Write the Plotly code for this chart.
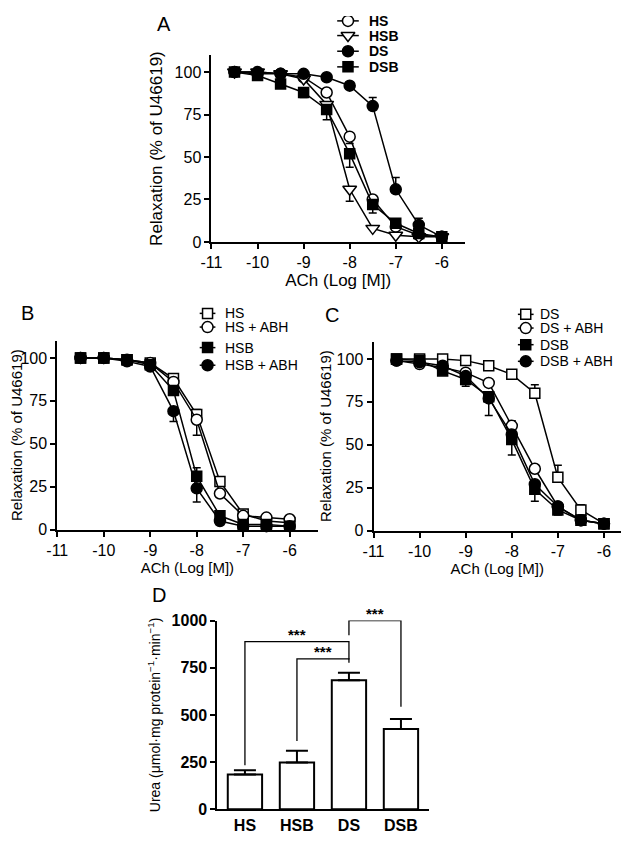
import plotly.graph_objects as go

# ---------------- data ----------------
log_ach = [-10.5, -10, -9.5, -9, -8.5, -8, -7.5, -7, -6.5, -6]
x_ticks = [-11, -10, -9, -8, -7, -6]
x_tick_labels = ["-11", "-10", "-9", "-8", "-7", "-6"]
y_ticks = [0, 25, 50, 75, 100]

# Panel A
a_hs = [100, 99, 99, 97, 88, 62, 25, 9, 4, 3]
a_hsb = [100, 100, 99, 96, 81, 31, 8, 4, 3, 3]
a_ds = [100, 100, 99, 99, 97, 92, 80, 31, 10, 3]
a_dsb = [100, 98, 93, 88, 78, 52, 22, 11, 5, 3]
a_hs_up = [0, 0, 0, 0, 0, 0, 0, 0, 0, 0]
a_hs_dn = [0, 0, 0, 0, 0, 4, 8, 0, 0, 0]
a_hsb_up = [0, 0, 0, 0, 0, 0, 0, 0, 0, 0]
a_hsb_dn = [0, 0, 0, 0, 0, 7, 0, 0, 0, 0]
a_ds_up = [0, 0, 0, 0, 0, 0, 5, 7, 4, 0]
a_ds_dn = [0, 0, 0, 0, 0, 0, 0, 0, 0, 0]
a_dsb_up = [0, 0, 0, 0, 0, 0, 0, 0, 0, 0]
a_dsb_dn = [0, 0, 0, 3, 6, 8, 0, 0, 0, 0]

# Panel B
b_hs = [100, 100, 99, 97, 88, 67, 28, 9, 5, 4]
b_hs_abh = [100, 100, 99, 97, 86, 64, 21, 8, 7, 6]
b_hsb = [100, 100, 99, 96, 81, 31, 8, 3, 3, 2]
b_hsb_abh = [100, 100, 98, 95, 69, 24, 5, 2, 2, 2]
b_hs_up = [0, 0, 0, 0, 2, 3, 2, 0, 0, 0]
b_hs_dn = [0, 0, 0, 0, 0, 0, 0, 0, 0, 0]
b_hs_abh_up = [0, 0, 0, 0, 0, 0, 0, 0, 0, 0]
b_hs_abh_dn = [0, 0, 0, 0, 0, 9, 0, 0, 0, 0]
b_hsb_up = [0, 0, 0, 0, 0, 5, 0, 0, 0, 0]
b_hsb_dn = [0, 0, 0, 0, 0, 0, 0, 0, 0, 0]
b_hsb_abh_up = [0, 0, 0, 0, 0, 0, 0, 0, 0, 0]
b_hsb_abh_dn = [0, 0, 0, 0, 6, 8, 0, 0, 0, 0]

# Panel C
c_ds = [100, 100, 100, 99, 96, 91, 80, 31, 12, 4]
c_ds_abh = [99, 97, 95, 92, 86, 61, 36, 14, 6, 4]
c_dsb = [100, 99, 93, 88, 78, 53, 24, 12, 6, 4]
c_dsb_abh = [99, 98, 96, 90, 77, 56, 27, 14, 6, 4]
c_ds_up = [0, 0, 0, 0, 0, 0, 5, 7, 3, 0]
c_ds_dn = [0, 0, 0, 0, 0, 0, 0, 0, 0, 0]
c_ds_abh_up = [0, 0, 0, 0, 0, 3, 0, 0, 0, 0]
c_ds_abh_dn = [0, 0, 0, 0, 0, 0, 0, 0, 0, 0]
c_dsb_up = [0, 0, 0, 0, 0, 0, 0, 0, 0, 0]
c_dsb_dn = [0, 0, 0, 4, 11, 9, 7, 3, 0, 0]
c_dsb_abh_up = [0, 0, 0, 0, 0, 0, 0, 0, 0, 0]
c_dsb_abh_dn = [0, 0, 0, 0, 0, 0, 0, 0, 0, 0]

# Panel D
groups = ["HS", "HSB", "DS", "DSB"]
urea = [185, 248, 684, 426]
urea_sem = [22, 62, 40, 52]
urea_ticks = [0, 250, 500, 750, 1000]
# significance brackets: (left group, right group, bar level, left drop-to, right drop-to)
brackets = [(0, 2, 888, 233, 793), (1, 2, 797, 362, 776), (2, 3, 1000, 922, 543)]

# ---------------- layout geometry ----------------
FONT = "Liberation Sans, Arial, sans-serif"
PAGE_W, PAGE_H = 629, 842
OFF = 8                      # default body margin of the page
W, H = PAGE_W - 2 * OFF, PAGE_H - 2 * OFF


def dom_x(a, b):
    return [max(0, (a - OFF) / W), min(1, (b - OFF) / W)]


def dom_y(top, bottom):
    return [max(0, 1 - (bottom - OFF) / H), min(1, 1 - (top - OFF) / H)]


fig = go.Figure()

legend_entries = []  # (panel, name, symbol, filled, size)


def add_series(y, up, dn, name, symbol, filled, xa, ya, panel, size=10):
    fig.add_trace(go.Scatter(
        x=log_ach, y=y, name=name, mode="lines+markers",
        xaxis=xa, yaxis=ya, showlegend=False,
        line=dict(color="black", width=1.5),
        marker=dict(symbol=symbol, size=size,
                    color="black" if filled else "white",
                    line=dict(color="black", width=1.5)),
        error_y=dict(type="data", symmetric=False, array=up, arrayminus=dn,
                     color="black", thickness=1.5, width=4),
        cliponaxis=False,
    ))
    legend_entries.append((panel, name, symbol, filled, size))


# Panel A
add_series(a_hs, a_hs_up, a_hs_dn, "HS", "circle", False, "x", "y", "A", size=11)
add_series(a_hsb, a_hsb_up, a_hsb_dn, "HSB", "triangle-down", False, "x", "y", "A", size=12)
add_series(a_ds, a_ds_up, a_ds_dn, "DS", "circle", True, "x", "y", "A", size=11)
add_series(a_dsb, a_dsb_up, a_dsb_dn, "DSB", "square", True, "x", "y", "A", size=10)

# Panel B
add_series(b_hs, b_hs_up, b_hs_dn, "HS", "square", False, "x2", "y2", "B", size=10)
add_series(b_hs_abh, b_hs_abh_up, b_hs_abh_dn, "HS + ABH", "circle", False, "x2", "y2", "B", size=11)
add_series(b_hsb, b_hsb_up, b_hsb_dn, "HSB", "square", True, "x2", "y2", "B", size=10)
add_series(b_hsb_abh, b_hsb_abh_up, b_hsb_abh_dn, "HSB + ABH", "circle", True, "x2", "y2", "B", size=11)

# Panel C
add_series(c_ds, c_ds_up, c_ds_dn, "DS", "square", False, "x3", "y3", "C", size=10)
add_series(c_ds_abh, c_ds_abh_up, c_ds_abh_dn, "DS + ABH", "circle", False, "x3", "y3", "C", size=11)
add_series(c_dsb, c_dsb_up, c_dsb_dn, "DSB", "square", True, "x3", "y3", "C", size=10)
add_series(c_dsb_abh, c_dsb_abh_up, c_dsb_abh_dn, "DSB + ABH", "circle", True, "x3", "y3", "C", size=11)

# Panel D bars
fig.add_trace(go.Bar(
    x=list(range(len(groups))), y=urea, xaxis="x4", yaxis="y4", width=0.66,
    marker=dict(color="white", line=dict(color="black", width=2)),
    error_y=dict(type="data", symmetric=False, array=urea_sem,
                 arrayminus=[0] * len(urea), color="black", thickness=2, width=11),
    showlegend=False,
))
for (i, j, lvl, dl, dr) in brackets:
    fig.add_trace(go.Scatter(
        x=[i, i, j, j], y=[dl, lvl, lvl, dr], mode="lines",
        xaxis="x4", yaxis="y4", line=dict(color="black", width=1.3),
        showlegend=False, cliponaxis=False, hoverinfo="skip",
    ))
    fig.add_annotation(x=(i + j) / 2, y=lvl, xref="x4", yref="y4", text="<b>***</b>",
                       showarrow=False, yanchor="bottom", yshift=-3,
                       font=dict(family=FONT, size=15, color="black"))

# ---- custom legends (transparent overlay pixel axis x5/y5, page pixel units) ----
# panel -> (symbol centre x, half line length, text x, row y positions, font size, bold)
legend_layout = {
    "A": (343, 11, 362, [13, 28, 44, 60], 14, True),
    "B": (200, 8, 216, [312, 326, 347, 365], 14, False),
    "C": (524, 8, 536, [313, 327, 344, 361], 14, False),
}
counters = {"A": 0, "B": 0, "C": 0}
for panel, name, symbol, filled, size in legend_entries:
    cx, hl, tx, rows, fs, bold = legend_layout[panel]
    yy = rows[counters[panel]]
    counters[panel] += 1
    fig.add_trace(go.Scatter(
        x=[cx - hl, cx + hl], y=[yy, yy], mode="lines", xaxis="x5", yaxis="y5",
        line=dict(color="black", width=1.5), showlegend=False, hoverinfo="skip"))
    fig.add_trace(go.Scatter(
        x=[cx], y=[yy], mode="markers", xaxis="x5", yaxis="y5",
        marker=dict(symbol=symbol, size=size, color="black" if filled else "white",
                    line=dict(color="black", width=1.5)),
        showlegend=False, hoverinfo="skip"))
    fig.add_annotation(x=tx, y=yy, xref="x5", yref="y5",
                       text=f"<b>{name}</b>" if bold else name,
                       showarrow=False, xanchor="left", yanchor="middle",
                       font=dict(family=FONT, size=fs, color="black"))

axis_common = dict(showline=True, linecolor="black", linewidth=2, ticks="outside",
                   ticklen=5, tickwidth=2, tickcolor="black", showgrid=False,
                   zeroline=False, mirror=False)

tickfont = dict(family=FONT, size=16, color="black")
boldtick = dict(family=FONT, size=16, color="black", weight="bold")

fig.update_layout(
    width=W, height=H, autosize=False,
    margin=dict(l=0, r=0, t=0, b=0),
    paper_bgcolor="white", plot_bgcolor="rgba(0,0,0,0)",
    font=dict(family=FONT, color="black"),
    # Panel A
    xaxis=dict(domain=dom_x(204, 462), anchor="y", range=[-11, -5.5],
               tickvals=x_ticks, ticktext=x_tick_labels, tickfont=tickfont,
               title=dict(text="ACh (Log [M])", font=dict(family=FONT, size=17), standoff=4),
               **axis_common),
    yaxis=dict(domain=dom_y(48, 239), anchor="x", range=[0, 110],
               tickvals=y_ticks, tickfont=tickfont,
               title=dict(text="Relaxation (% of U46619)", font=dict(family=FONT, size=17), standoff=8),
               **axis_common),
    # Panel B
    xaxis2=dict(domain=dom_x(47, 312), anchor="y2", range=[-11, -5.4],
                tickvals=x_ticks, ticktext=x_tick_labels, tickfont=tickfont,
                title=dict(text="ACh (Log [M])", font=dict(family=FONT, size=15), standoff=3),
                **axis_common),
    yaxis2=dict(domain=dom_y(340, 533), anchor="x2", range=[0, 110],
                tickvals=y_ticks, tickfont=tickfont,
                title=dict(text="Relaxation (% of U46619)", font=dict(family=FONT, size=15), standoff=1),
                **axis_common),
    # Panel C
    xaxis3=dict(domain=dom_x(369, 621), anchor="y3", range=[-11, -5.63],
                tickvals=x_ticks, ticktext=x_tick_labels, tickfont=tickfont,
                title=dict(text="ACh (Log [M])", font=dict(family=FONT, size=15), standoff=3),
                **axis_common),
    yaxis3=dict(domain=dom_y(341, 534), anchor="x3", range=[0, 110],
                tickvals=y_ticks, tickfont=tickfont,
                title=dict(text="Relaxation (% of U46619)", font=dict(family=FONT, size=15), standoff=1),
                **axis_common),
    # Panel D
    xaxis4=dict(domain=dom_x(210, 425), anchor="y4", range=[-0.53, 3.53],
                tickvals=list(range(len(groups))), ticktext=groups,
                showline=True, linecolor="black", linewidth=2, ticks="",
                showgrid=False, zeroline=False, tickfont=boldtick),
    yaxis4=dict(domain=dom_y(626, 819), anchor="x4", range=[0, 1000],
                tickvals=urea_ticks, tickfont=boldtick,
                title=dict(text="Urea (\u03bcmol\u00b7mg protein<sup>\u22121</sup>\u00b7min<sup>\u22121</sup>)",
                           font=dict(family=FONT, size=14), standoff=8),
                **axis_common),
    # transparent overlay axes in page pixel units for the legends
    xaxis5=dict(domain=[0, 1], anchor="y5", range=[OFF, OFF + W], visible=False, fixedrange=True),
    yaxis5=dict(domain=[0, 1], anchor="x5", range=[OFF + H, OFF], visible=False, fixedrange=True),
    showlegend=False,
)

panel_labels = [("A", 146, 16), ("B", 8, 312), ("C", 318, 314), ("D", 141, 600)]
for txt, px, py in panel_labels:
    fig.add_annotation(x=px, y=py, xref="x5", yref="y5", text=txt,
                       showarrow=False, xanchor="left", yanchor="middle",
                       font=dict(family=FONT, size=20, color="black"))

fig.write_html("out.html", config={"displayModeBar": False})
